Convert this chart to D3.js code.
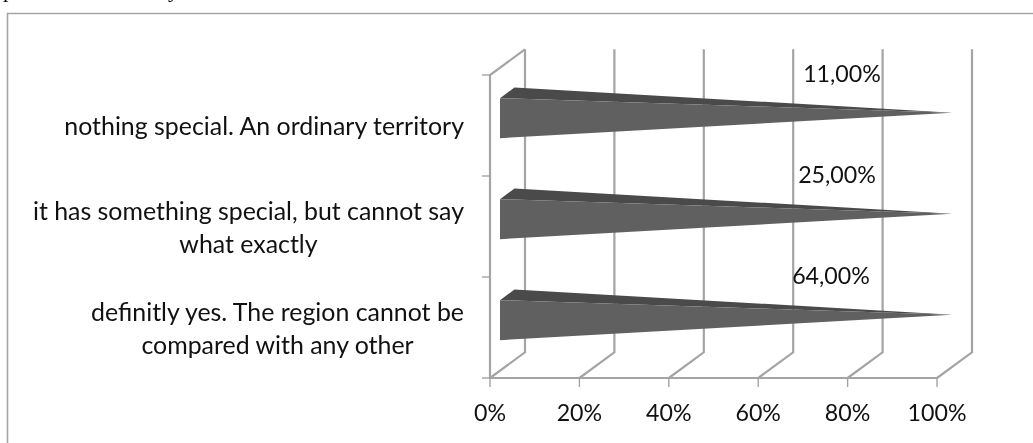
<!DOCTYPE html>
<html>
<head>
<meta charset="utf-8">
<style>
  html, body { margin: 0; padding: 0; background: #fff; overflow: hidden; }
  svg { display: block; font-family: Lato, "Open Sans", sans-serif; filter: blur(0.4px); }
</style>
<script src="https://cdn.jsdelivr.net/npm/d3@7/dist/d3.min.js"></script>
</head>
<body>
<div id="container"></div>
<script>
    const categories = [
        ["nothing special. An ordinary territory"],
        ["it has something special, but cannot say", "what exactly"],
        ["definitly yes. The region cannot be", "compared with any other"]
    ];
    const labelValues = [11, 25, 64];
    const barValues = [100, 100, 100];
    const tickValues = [0, 20, 40, 60, 80, 100];

    const width = 1033;
    const height = 443;
    const gridColor = "#a4a4a4";
    const depthX = 35;
    const depthY = 25.7;
    const catFont = "24.9px";
    const numFont = "23.2px";

    const svg = d3.create("svg")
        .attr("width", width)
        .attr("height", height);

    const x = d3.scaleLinear().domain([0, 100]).range([490, 937]);
    const y = d3.scaleBand().domain(d3.range(categories.length)).range([75, 378]);
    const yMid = i => y(i) + y.bandwidth() / 2;

    // label x drifts a little with the value in the original
    const labelX = d3.scaleLinear().domain([11, 25, 64]).range([842, 837, 831]);

    // page text cut off by the crop, only the descenders show
    svg.append("text").attr("x", 3).attr("y", -3)
        .style("font-family", "Liberation Serif").style("font-size", "22px").text("p");
    svg.append("text").attr("x", 168).attr("y", -3)
        .style("font-family", "Liberation Serif").style("font-size", "22px").text("y");

    // frame, runs off the right and bottom of the crop
    svg.append("path")
        .attr("d", `M7.5,${height + 2}V13.5H${width + 2}`)
        .attr("fill", "none")
        .attr("stroke", "#a6a6a6")
        .attr("stroke-width", 1.6);

    // gridlines: front tick, diagonal floor line, back wall
    svg.append("g").selectAll("path")
        .data(tickValues)
        .join("path")
        .attr("d", d => `M${x(d)},378L${x(d) + depthX},${378 - depthY}V${75 - depthY}`)
        .attr("fill", "none")
        .attr("stroke", gridColor)
        .attr("stroke-width", 2.2);

    // left wall top diagonal, wall edge and floor edge
    svg.append("path")
        .attr("d", `M${x(0) + depthX},${75 - depthY}L${x(0)},75V378H${x(100)}`)
        .attr("fill", "none")
        .attr("stroke", gridColor)
        .attr("stroke-width", 2.2);

    // ticks
    svg.append("g").selectAll("line")
        .data(tickValues)
        .join("line")
        .attr("x1", d => x(d)).attr("x2", d => x(d))
        .attr("y1", 378).attr("y2", 387)
        .attr("stroke", gridColor)
        .attr("stroke-width", 1.4);
    svg.append("g").selectAll("line")
        .data(d3.range(categories.length + 1))
        .join("line")
        .attr("x1", 482).attr("x2", 490)
        .attr("y1", d => 75 + d * y.step()).attr("y2", d => 75 + d * y.step())
        .attr("stroke", gridColor)
        .attr("stroke-width", 1.4);

    // pyramids
    const frontD = 0.286, backD = 0.7, halfH = 20;
    const pt = (v, d, yy) => [x(v) + d * depthX, yy - d * depthY];
    const bars = svg.append("g").selectAll("g")
        .data(barValues)
        .join("g");
    const tip = (v, i) => [x(v) + 0.43 * depthX, yMid(i) - 0.5 * depthY];
    // top side
    bars.append("path")
        .attr("fill", "#4a4a4a")
        .attr("d", (v, i) => "M" + [pt(0, frontD, yMid(i) - halfH), pt(0, backD, yMid(i) - halfH), tip(v, i)].join("L") + "Z");
    // front side
    bars.append("path")
        .attr("fill", "#606060")
        .attr("d", (v, i) => "M" + [pt(0, frontD, yMid(i) - halfH), tip(v, i), pt(0, frontD, yMid(i) + halfH)].join("L") + "Z");

    // value labels
    svg.append("g").selectAll("text")
        .data(labelValues)
        .join("text")
        .attr("x", d => labelX(d))
        .attr("y", (d, i) => yMid(i) - 43.5)
        .attr("text-anchor", "middle")
        .attr("fill", "#111")
        .style("font-size", numFont)
        .text(d => d3.format(".2f")(d).replace(".", ",") + "%");

    // x tick labels
    svg.append("g").selectAll("text")
        .data(tickValues)
        .join("text")
        .attr("x", d => x(d))
        .attr("y", 421)
        .attr("text-anchor", "middle")
        .attr("fill", "#111")
        .style("font-size", numFont)
        .text(d => d + "%");

    container.append(svg.node());

    // category labels, wrapped lines centred in a block that ends at x=464
    const catRight = 464;
    const catGroups = svg.append("g").selectAll("text")
        .data(categories)
        .join("text")
        .attr("text-anchor", "middle")
        .attr("fill", "#111")
        .style("font-size", catFont);
    catGroups.each(function (lines, i) {
        const t = d3.select(this);
        lines.forEach((line, j) => {
            t.append("tspan")
                .attr("y", yMid(i) + 9.5 - (lines.length - 1) * 16 + j * 32.5)
                .text(line);
        });
        const w = d3.max(t.selectAll("tspan").nodes(), n => n.getComputedTextLength());
        t.selectAll("tspan").attr("x", catRight - w / 2);
    });
</script>
</body>
</html>
